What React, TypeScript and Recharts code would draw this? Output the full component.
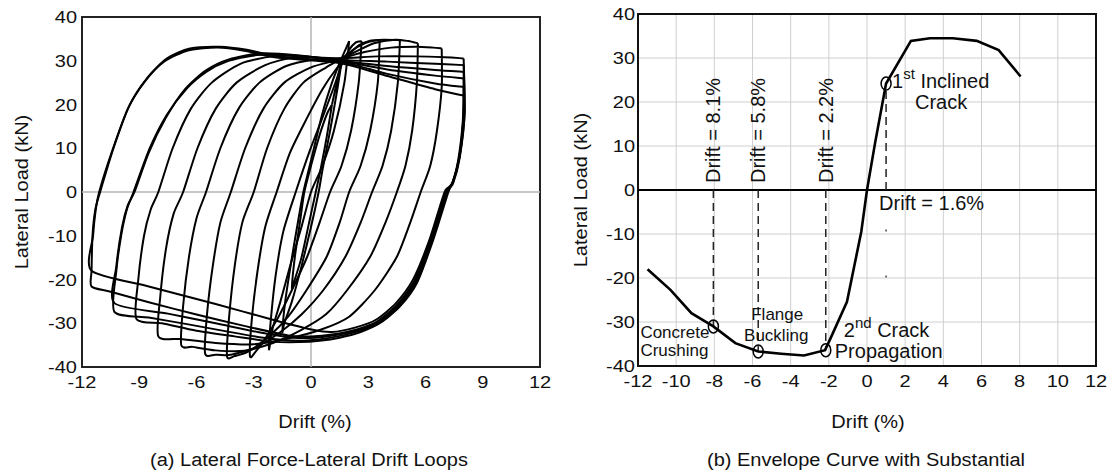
import React from "react";
import {
  LineChart,
  ComposedChart,
  Line,
  Scatter,
  XAxis,
  YAxis,
  CartesianGrid,
  ReferenceLine,
  ReferenceArea,
  ReferenceDot,
} from "recharts";

type Pt = [number, number];

const FONT = "'Liberation Sans', Arial, Helvetica, sans-serif";

// (a) hysteresis loops, drift (%) vs lateral load (kN), one array per cycle
const cycle01: Pt[] = [[1.1, 20], [0.8, 12], [0.45, 4], [0.25, 0], [-0.1, -7], [-0.5, -15], [-0.85, -20], [-1.0, -22], [-0.85, -15], [-0.55, -6], [-0.35, 0], [0.0, 6], [0.45, 13], [0.85, 18], [1.1, 20]];
const cycle02: Pt[] = [[1.1, 20], [1.35, 25], [1.6, 30], [1.4, 24], [1.0, 14], [0.6, 5], [0.4, 0], [0.0, -8], [-0.5, -17], [-1.0, -25], [-1.4, -30], [-1.5, -32], [-1.35, -25], [-1.0, -15], [-0.65, -6], [-0.4, 0], [0.1, 9], [0.6, 18], [1.1, 25], [1.5, 29.5], [1.8, 32.5], [2.0, 34.5]];
const cycle03: Pt[] = [[2.0, 34.5], [1.75, 25], [1.2, 14], [0.6, 6], [0.0, 0], [-0.5, -8], [-1.1, -17], [-1.6, -25], [-2.0, -31], [-2.2, -36], [-2.1, -29], [-1.85, -19], [-1.45, -9], [-0.8, 0], [-0.1, 9], [0.6, 17], [1.2, 24], [1.6, 29], [2.0, 32.5], [2.35, 34.2], [2.65, 34.5]];
const cycle04: Pt[] = [[2.65, 34.5], [2.5, 25], [2.1, 14], [1.6, 6], [1.0, 0], [0.45, -7], [-0.2, -14.8], [-1.0, -22.4], [-1.7, -28.5], [-2.4, -33.5], [-2.9, -36.5], [-3.2, -37.5], [-3.1, -29], [-2.8, -18], [-2.4, -8], [-1.8, 0], [-1.1, 9], [-0.2, 17], [0.6, 23.5], [1.3, 28], [1.9, 31], [2.5, 33.5], [3.1, 34.6], [3.6, 34.7]];
const cycle05: Pt[] = [[3.6, 34.7], [3.5, 25], [3.1, 14], [2.6, 6], [2.0, 0], [1.5, -7], [0.82, -14.8], [-0.23, -22.4], [-1.2, -28.5], [-2.2, -33], [-3.3, -36.5], [-4.0, -37.5], [-4.4, -37.6], [-4.3, -29], [-4.0, -17], [-3.6, -7], [-3.0, 0], [-2.3, 10], [-1.4, 19], [-0.4, 25], [0.8, 28.5], [1.6, 30.5], [2.3, 32.8], [3.0, 34.3], [3.8, 34.8], [4.66, 34.7]];
const cycle06: Pt[] = [[4.66, 34.7], [4.55, 25], [4.2, 14], [3.75, 6], [3.2, 0], [2.6, -7], [1.8, -14.8], [0.65, -22.4], [-0.5, -28], [-1.6, -32], [-2.9, -35.5], [-4.2, -37.2], [-5.0, -37.2], [-5.55, -36.9], [-5.45, -28], [-5.15, -17], [-4.75, -7], [-4.2, 0], [-3.45, 10], [-2.5, 19], [-1.4, 25], [0.0, 28.5], [1.5, 30.3], [2.4, 32.2], [3.3, 34], [4.4, 34.8], [5.1, 34.5], [5.6, 34]];
const cycle07: Pt[] = [[5.6, 34], [5.55, 25], [5.3, 14], [4.95, 6], [4.5, 0], [3.9, -7], [3.1, -14.8], [1.9, -22.4], [0.8, -27.9], [-0.5, -31.5], [-2.0, -34.5], [-3.5, -36.3], [-5.0, -36.2], [-6.2, -35.4], [-6.8, -35], [-6.7, -26], [-6.4, -15], [-6.0, -6], [-5.5, 0], [-4.75, 10], [-3.8, 19], [-2.7, 25], [-1.3, 28.8], [0.2, 30.3], [1.5, 30.5], [2.8, 32], [4.2, 33], [5.5, 33.2], [6.4, 33], [6.85, 32.8]];
const cycle08: Pt[] = [[6.85, 32.8], [6.85, 24], [6.6, 14], [6.25, 6], [5.75, 0], [5.2, -7], [4.5, -14.8], [3.35, -22.4], [2.0, -28.5], [0.5, -31.5], [-1.2, -33.5], [-3.0, -34.8], [-5.0, -34.5], [-6.8, -33.6], [-8.0, -33], [-7.9, -24], [-7.6, -13], [-7.2, -5], [-6.7, 0], [-5.95, 10], [-5.0, 19], [-3.9, 25], [-2.4, 29], [-0.8, 30.8], [1.5, 30.6], [3.5, 31], [5.5, 31], [7.0, 30.8], [7.8, 30.6], [8.0, 30.5]];
const cycle09: Pt[] = [[8.0, 30.5], [8.05, 18], [7.8, 8.5], [7.45, 2.4], [7.2, 0], [6.4, -11], [5.55, -20.8], [4.65, -26.2], [3.6, -30], [2.6, -32], [1.5, -33.3], [0.45, -34], [-0.6, -34.3], [-2.0, -34.2], [-4.0, -33], [-6.0, -31.7], [-7.8, -30], [-9.15, -29], [-9.05, -20], [-8.75, -10], [-8.4, -4], [-8.0, 0], [-7.25, 10], [-6.3, 19], [-5.2, 25], [-3.7, 29.3], [-2.0, 31], [-0.3, 31], [1.5, 30.2], [4.0, 29.8], [6.5, 29.3], [8.0, 29]];
const cycle10: Pt[] = [[8.0, 29], [8.05, 18], [7.8, 8], [7.45, 2], [7.15, 0], [6.35, -11], [5.5, -20.8], [4.6, -26.2], [3.55, -30], [2.5, -31.8], [1.4, -33], [0.4, -33.7], [-0.7, -34], [-2.5, -33.3], [-4.5, -31.8], [-6.5, -30.2], [-8.5, -28.7], [-10.3, -27.4], [-10.2, -18], [-9.95, -10], [-9.65, -4], [-9.3, 0], [-8.45, 10], [-7.56, 17.6], [-6.5, 23.7], [-5.47, 27.5], [-4.42, 29.8], [-2.85, 31.3], [-0.8, 31.2], [1.5, 30], [4.0, 28.8], [6.5, 27.9], [8.0, 27.5]];
const cycle11: Pt[] = [[8.0, 27.5], [8.0, 18], [7.78, 8], [7.42, 2], [7.1, 0], [6.3, -11], [5.45, -20.6], [4.55, -26], [3.5, -29.8], [2.45, -31.6], [1.3, -32.7], [0.2, -33.3], [-0.9, -33.3], [-2.8, -32], [-5.0, -30], [-7.5, -27.8], [-10.3, -25.4], [-10.2, -17], [-9.9, -8], [-9.6, -3], [-9.25, 0], [-8.5, 9], [-7.6, 17], [-6.6, 23.5], [-5.5, 27.8], [-4.3, 30.3], [-2.6, 31.7], [-0.6, 31.2], [1.5, 30], [4.0, 28], [6.5, 26.6], [8.0, 26]];
const cycle12: Pt[] = [[8.0, 26], [8.0, 17], [7.75, 7.5], [7.4, 2], [7.05, 0], [6.25, -11], [5.4, -20.4], [4.5, -25.8], [3.45, -29.6], [2.4, -31.4], [1.2, -32.5], [0.0, -33], [-1.2, -32.8], [-3.5, -30.6], [-6.0, -28], [-8.5, -25.2], [-10.5, -22.8], [-11.5, -21.6], [-11.5, -18], [-11.45, -10], [-11.3, -4], [-11.05, 0], [-10.35, 10], [-9.5, 19.9], [-8.6, 26], [-7.56, 30.5], [-6.34, 32.8], [-4.77, 33.2], [-3.37, 32.5], [-1.62, 30.9], [1.5, 29.8], [4.0, 27], [6.5, 24.8], [8.0, 24]];
const cycle13: Pt[] = [[8.0, 24], [7.95, 16], [7.7, 7], [7.35, 1.5], [7.0, 0], [6.2, -11], [5.35, -20], [4.45, -25.4], [3.4, -29.2], [2.3, -31], [1.1, -32], [0.1, -31.5], [-2.0, -29.2], [-5.0, -25.6], [-8.5, -21.6], [-11.5, -18], [-11.42, -10], [-11.28, -4], [-11.1, 0], [-10.45, 9], [-9.6, 19], [-8.7, 25.3], [-7.7, 29.8], [-6.4, 32.4], [-4.9, 33], [-3.5, 32.3], [-1.7, 30.7], [1.5, 29.5], [4.0, 26.5], [6.5, 23.5], [8.0, 22]];

const cycles = [cycle01, cycle02, cycle03, cycle04, cycle05, cycle06, cycle07, cycle08, cycle09, cycle10, cycle11, cycle12, cycle13];

// (b) envelope curve
const envDrift = [-11.5, -10.3, -9.2, -8.05, -6.9, -5.7, -4.5, -3.3, -2.2, -1.9, -1.05, -0.3, 0.0, 0.42, 1.0, 2.3, 3.3, 4.5, 5.75, 6.9, 8.05];
const envLoad = [-18, -22.7, -28, -31, -34.8, -36.7, -37.2, -37.6, -36.4, -33.6, -25.4, -9.5, 0, 10.6, 24.2, 33.9, 34.5, 34.5, 33.9, 31.8, 25.8];

// damage events on the envelope
const eventDrift = [-8.05, -5.7, -2.16, 1.0];
const eventLoad = [-31, -36.7, -36.4, 24.2];
const eventDriftText = ["Drift = 8.1%", "Drift = 5.8%", "Drift = 2.2%", "Drift = 1.6%"];

const xTicksA = [-12, -9, -6, -3, 0, 3, 6, 9, 12];
const xTicksB = [-12, -10, -8, -6, -4, -2, 0, 2, 4, 6, 8, 10, 12];
const yTicks = [-40, -30, -20, -10, 0, 10, 20, 30, 40];

const toPts = (arr: Pt[]) => arr.map(([d, f]) => ({ d, f }));
const envelope = envDrift.map((d, i) => ({ d, f: envLoad[i] }));
const events = eventDrift.map((d, i) => ({ d, f: eventLoad[i] }));

// catmull-rom style curve so the recorded loops come out rounded
const smoothCurve = (context: any) => {
  let pts: number[][] = [];
  return {
    areaStart() {},
    areaEnd() {},
    lineStart() {
      pts = [];
    },
    lineEnd() {
      const n = pts.length;
      if (!n) return;
      const k = 0.12;
      context.moveTo(pts[0][0], pts[0][1]);
      for (let i = 0; i < n - 1; i++) {
        const p0 = pts[i - 1] || pts[i];
        const p1 = pts[i];
        const p2 = pts[i + 1];
        const p3 = pts[i + 2] || p2;
        context.bezierCurveTo(
          p1[0] + (p2[0] - p0[0]) * k,
          p1[1] + (p2[1] - p0[1]) * k,
          p2[0] - (p3[0] - p1[0]) * k,
          p2[1] - (p3[1] - p1[1]) * k,
          p2[0],
          p2[1]
        );
      }
    },
    point(x: number, y: number) {
      pts.push([+x, +y]);
    },
  };
};

const SQUISH = 0.86;
const txt = { fontFamily: FONT, fill: "#111" };

// tick labels in the source are wide and a little flat
const XTick = (p: any) => (
  <g transform={`translate(${p.x},${p.y})`}>
    <text transform={`scale(1,${SQUISH})`} textAnchor="middle" dy="0.71em" fontSize={20} {...txt}>
      {p.payload.value}
    </text>
  </g>
);

const YTick = (p: any) => (
  <g transform={`translate(${p.x},${p.y})`}>
    <text transform={`scale(1,${SQUISH})`} textAnchor="end" dy="0.355em" fontSize={20} {...txt}>
      {p.payload.value}
    </text>
  </g>
);

const EventMarker = (p: any) => (
  <ellipse cx={p.cx} cy={p.cy} rx={5} ry={6.5} fill="none" stroke="#000" strokeWidth={1.5} />
);

const verticalLabel = (text: string) => (p: any) => {
  const x = p.cx + 7;
  const y = p.cy - 7;
  return (
    <text x={x} y={y} transform={`rotate(-90 ${x} ${y})`} fontSize={20} {...txt}>
      {text}
    </text>
  );
};

const belowLabel = (text: string) => (p: any) => (
  <text x={p.cx - 7} y={p.cy + 20} fontSize={20} {...txt}>
    {text}
  </text>
);

const concreteLabel = (p: any) => (
  <g fontSize={17} {...txt}>
    <text x={p.cx - 73} y={p.cy + 12}>Concrete</text>
    <text x={p.cx - 73} y={p.cy + 30}>Crushing</text>
  </g>
);

const flangeLabel = (p: any) => (
  <g fontSize={17} {...txt} textAnchor="middle">
    <text x={p.cx + 19} y={p.cy - 31}>Flange</text>
    <text x={p.cx + 18} y={p.cy - 10}>Buckling</text>
  </g>
);

const secondCrackLabel = (p: any) => (
  <g fontSize={20} {...txt}>
    <text x={p.cx + 18} y={p.cy - 13}>
      2<tspan dy={-9} fontSize={15}>nd</tspan>
      <tspan dy={9}> Crack</tspan>
    </text>
    <text x={p.cx + 9} y={p.cy + 8}>Propagation</text>
  </g>
);

const firstCrackLabel = (p: any) => (
  <g fontSize={20} {...txt}>
    <text x={p.cx + 6} y={p.cy + 4}>
      1<tspan dy={-9} fontSize={15}>st</tspan>
      <tspan dy={9}> Inclined</tspan>
    </text>
    <text x={p.cx + 55} y={p.cy + 25} textAnchor="middle">Crack</text>
  </g>
);

const descLabels = [concreteLabel, flangeLabel, secondCrackLabel, firstCrackLabel];

const htmlText = (left: number, top: number, rotate = false): React.CSSProperties => ({
  position: "absolute",
  left,
  top,
  transform: `translate(-50%, -50%)${rotate ? " rotate(-90deg)" : ""} scaleY(0.88)`,
  whiteSpace: "nowrap",
  fontSize: 20,
  color: "#111",
  fontFamily: FONT,
  lineHeight: 1,
});

export default function App() {
  return (
    <div style={{ position: "absolute", left: 0, top: 0, width: 1113, height: 472, background: "#fff", fontFamily: FONT }}>
      <div style={{ position: "absolute", left: 0, top: 0 }}>
        <LineChart width={560} height={472} margin={{ top: 17, right: 20, left: 42, bottom: 75 }}>
          <XAxis
            type="number"
            dataKey="d"
            domain={[-12, 12]}
            ticks={xTicksA}
            interval={0}
            allowDataOverflow
            tickLine={false}
            axisLine={false}
            tickSize={6}
            tickMargin={3}
            height={30}
            tick={XTick}
          />
          <YAxis
            type="number"
            dataKey="f"
            domain={[-40, 40]}
            ticks={yTicks}
            interval={0}
            allowDataOverflow
            tickLine={false}
            axisLine={false}
            tickSize={3}
            tickMargin={2}
            width={40}
            tick={YTick}
          />
          <ReferenceLine x={0} stroke="#b4b4b4" strokeWidth={1.5} />
          <ReferenceLine y={0} stroke="#b4b4b4" strokeWidth={1.5} />
          {cycles.map((c, i) => (
            <Line
              key={i}
              data={toPts(c)}
              dataKey="f"
              type={smoothCurve as any}
              stroke="#000"
              strokeWidth={2}
              dot={false}
              activeDot={false}
              isAnimationActive={false}
            />
          ))}
          <ReferenceArea x1={-12} x2={12} y1={-40} y2={40} fill="none" stroke="#222" strokeWidth={2} />
        </LineChart>
      </div>

      <div style={{ position: "absolute", left: 560, top: 0 }}>
        <ComposedChart width={553} height={472} margin={{ top: 14, right: 17, left: 38, bottom: 76 }}>
          <CartesianGrid stroke="#cfcfcf" strokeWidth={1} />
          <XAxis
            type="number"
            dataKey="d"
            domain={[-12, 12]}
            ticks={xTicksB}
            interval={0}
            allowDataOverflow
            tickLine={false}
            axisLine={false}
            tickSize={6}
            tickMargin={3}
            height={30}
            tick={XTick}
          />
          <YAxis
            type="number"
            dataKey="f"
            domain={[-40, 40]}
            ticks={yTicks}
            interval={0}
            allowDataOverflow
            tickLine={false}
            axisLine={false}
            tickSize={1}
            tickMargin={2}
            width={40}
            tick={YTick}
          />
          <ReferenceLine y={0} stroke="#000" strokeWidth={2} />
          {eventDrift.map((d, i) => (
            <ReferenceLine
              key={"dash" + i}
              segment={[{ x: d, y: 0 }, { x: d, y: eventLoad[i] }]}
              stroke="#222"
              strokeWidth={1.5}
              strokeDasharray="8 5"
            />
          ))}
          <ReferenceLine
            segment={[{ x: eventDrift[3], y: -9 }, { x: eventDrift[3], y: -21 }]}
            stroke="#444"
            strokeWidth={1.5}
            strokeDasharray="2 44"
          />
          <Line
            data={envelope}
            dataKey="f"
            type="linear"
            stroke="#000"
            strokeWidth={2.6}
            dot={false}
            activeDot={false}
            isAnimationActive={false}
          />
          <Scatter data={events} dataKey="f" shape={EventMarker} isAnimationActive={false} />
          {eventDrift.map((d, i) => (
            <ReferenceDot
              key={"dl" + i}
              x={d}
              y={0}
              r={0}
              shape={i < 3 ? verticalLabel(eventDriftText[i]) : belowLabel(eventDriftText[i])}
            />
          ))}
          {eventDrift.map((d, i) => (
            <ReferenceDot key={"el" + i} x={d} y={eventLoad[i]} r={0} shape={descLabels[i]} />
          ))}
          <ReferenceArea x1={-12} x2={12} y1={-40} y2={40} fill="none" stroke="#111" strokeWidth={2} />
        </ComposedChart>
      </div>

      <div style={htmlText(22, 192, true)}>Lateral Load (kN)</div>
      <div style={htmlText(581, 190, true)}>Lateral Load (kN)</div>
      <div style={htmlText(315, 422)}>Drift (%)</div>
      <div style={htmlText(868, 422)}>Drift (%)</div>
      <div style={htmlText(309, 460)}>(a) Lateral Force-Lateral Drift Loops</div>
      <div style={htmlText(866, 460)}>(b) Envelope Curve with Substantial</div>
    </div>
  );
}
